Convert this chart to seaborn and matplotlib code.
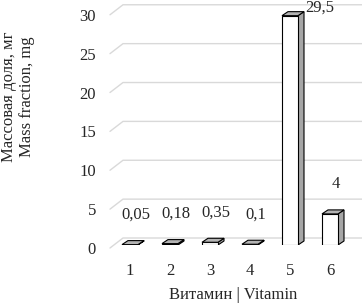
import matplotlib
matplotlib.use('Agg')
from matplotlib import pyplot as plt
import matplotlib.transforms as mtransforms
from matplotlib.patches import Polygon
import pandas as pd
import seaborn as sns

vitamins = ['1', '2', '3', '4', '5', '6']
values = [0.05, 0.18, 0.35, 0.1, 29.5, 4]
value_labels = ['0,05', '0,18', '0,35', '0,1', '29,5', '4']
y_ticks = [0, 5, 10, 15, 20, 25, 30]

df = pd.DataFrame({'vitamin': vitamins, 'value': values})

sns.set_style('white')
plt.rcParams['font.family'] = ['Liberation Serif', 'DejaVu Serif']
plt.rcParams['font.size'] = 12

fig = plt.figure(figsize=(3.62, 3.05), dpi=100)
ax = fig.add_axes([110 / 362, 60 / 305, 252 / 362, 241 / 305])

sns.barplot(x='vitamin', y='value', data=df, color='white', edgecolor='black',
            linewidth=0.8, width=0.4, saturation=1, ax=ax, zorder=3)
ax.set_xlim(-0.5, 5.8)
ax.set_ylim(0, 31)
for s in ax.spines.values():
    s.set_visible(False)
ax.set_xlabel('')
ax.set_ylabel('')
ax.set_yticks(y_ticks)
ax.set_yticklabels([str(t) for t in y_ticks])
ax.tick_params(axis='y', length=0, pad=10)
ax.tick_params(axis='x', length=0, pad=13)

ident = mtransforms.IdentityTransform()
shift = mtransforms.ScaledTranslation(0, -3 / 100, fig.dpi_scale_trans)
for lab in ax.get_yticklabels():
    lab.set_transform(lab.get_transform() + shift)

# gridlines: front-left diagonal then back wall
x0 = ax.get_xlim()[0]
x1 = ax.get_xlim()[1]
for t in y_ticks:
    fx, fy = ax.transData.transform((x0, t))
    rx, _ = ax.transData.transform((x1, t))
    ax.add_line(plt.Line2D([fx, fx + 13, rx], [fy - 3, fy + 7, fy + 7],
                           color='#d9d9d9', lw=1, transform=ident,
                           clip_on=False, zorder=0))

# 3d side and top faces
dx, dy = 6, 4
for p in ax.patches:
    xl = p.get_x()
    xr = xl + p.get_width()
    h = p.get_height()
    (lx, by), (rx, ty) = ax.transData.transform([(xl, 0), (xr, h)])
    side = Polygon([(rx, by), (rx, ty), (rx + dx, ty + dy), (rx + dx, by + dy)],
                   closed=True, facecolor='#a6a6a6', edgecolor='black', lw=0.8,
                   transform=ident, zorder=2)
    top = Polygon([(lx, ty), (rx, ty), (rx + dx, ty + dy), (lx + dx, ty + dy)],
                  closed=True, facecolor='#b3b3b3', edgecolor='black', lw=0.8,
                  transform=ident, zorder=4)
    ax.add_patch(side)
    ax.add_patch(top)

# value labels
fig_h = fig.get_figheight() * fig.dpi
for i, (v, lab) in enumerate(zip(values, value_labels)):
    px, py = ax.transData.transform((i, v))
    ty = py + 30
    tx = px + 6
    if ty > fig_h - 8:
        ty = fig_h - 8
        tx = px + 30
    ax.text(tx, ty, lab, transform=ident, ha='center', va='center', clip_on=False)

fig.text(18 / 362, (305 - 97) / 305, 'Массовая доля, мг\nMass fraction, mg',
         rotation=90, ha='center', va='center', linespacing=1.1)
fig.text(233 / 362, 10 / 305, 'Витамин | Vitamin', ha='center', va='center')

fig.savefig('out.png', dpi=100)
